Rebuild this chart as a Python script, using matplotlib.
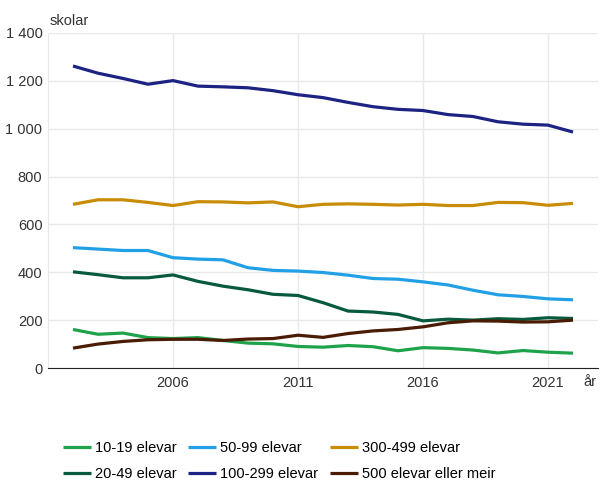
import numpy as np
from matplotlib import pyplot as plt
from matplotlib.ticker import FuncFormatter

plt.rcParams['font.family'] = ['Liberation Sans', 'DejaVu Sans']

years = list(range(2002, 2023))

s_10_19 = [161, 141, 146, 127, 123, 127, 115, 104, 101, 90, 87, 94, 89, 72, 85, 82, 75, 63, 73, 66, 62]
s_20_49 = [402, 390, 377, 377, 389, 362, 342, 327, 308, 303, 273, 238, 234, 224, 197, 204, 200, 206, 203, 210, 207]
s_50_99 = [503, 497, 491, 491, 461, 455, 452, 419, 408, 405, 399, 388, 374, 371, 360, 347, 325, 306, 299, 289, 285]
s_100_299 = [1262, 1232, 1210, 1186, 1201, 1178, 1175, 1171, 1159, 1142, 1130, 1110, 1092, 1081, 1076, 1059, 1051, 1029, 1019, 1015, 986]
s_300_499 = [684, 703, 703, 692, 679, 695, 694, 690, 694, 674, 684, 686, 684, 681, 684, 679, 679, 692, 691, 680, 688]
s_500 = [83, 100, 111, 118, 120, 120, 115, 121, 123, 137, 128, 144, 155, 161, 172, 189, 197, 196, 192, 193, 200]

series = [
    ("10-19 elevar", s_10_19, "#1fa34a"),
    ("20-49 elevar", s_20_49, "#075a3c"),
    ("50-99 elevar", s_50_99, "#22a0e6"),
    ("100-299 elevar", s_100_299, "#1c2382"),
    ("300-499 elevar", s_300_499, "#c98c06"),
    ("500 elevar eller meir", s_500, "#4a1c04"),
]

fig = plt.figure(figsize=(6.01, 4.82), dpi=100)
ax = fig.add_axes([48 / 601, 1 - 368 / 482, 550 / 601, 335 / 482])

for name, vals, col in series:
    ax.plot(years, vals, color=col, lw=2.3, label=name, solid_capstyle='butt')

ax.set_xlim(2001, 2023)
ax.set_ylim(0, 1400)
ax.set_yticks(range(0, 1401, 200))
ax.set_xticks([2006, 2011, 2016, 2021])
ax.yaxis.set_major_formatter(FuncFormatter(lambda v, p: f"{int(v):,}".replace(",", " ")))
ax.grid(True, color="#e6eaea", lw=1)
ax.set_axisbelow(True)
ax.tick_params(length=0, labelsize=10.5, labelcolor="#333333", pad=6)
ax.tick_params(axis='y', pad=4)
for side in ["top", "right"]:
    ax.spines[side].set_visible(False)
ax.spines["left"].set_color("#e6eaea")
ax.spines["bottom"].set_color("#222222")

fig.text(50 / 601, 1 - 21 / 482, "skolar", fontsize=10.5, color="#333333", va="center")
fig.text(583 / 601, 1 - 382 / 482, "år", fontsize=10.5, color="#333333", va="center")

fig.legend(loc="center left", bbox_to_anchor=(63 / 601, 1 - 461 / 482), ncol=3, frameon=False,
           fontsize=10.5, handlelength=1.9, handletextpad=0.3, columnspacing=0.8,
           labelspacing=0.85, borderaxespad=0, borderpad=0)

fig.savefig("out.png", dpi=100)
